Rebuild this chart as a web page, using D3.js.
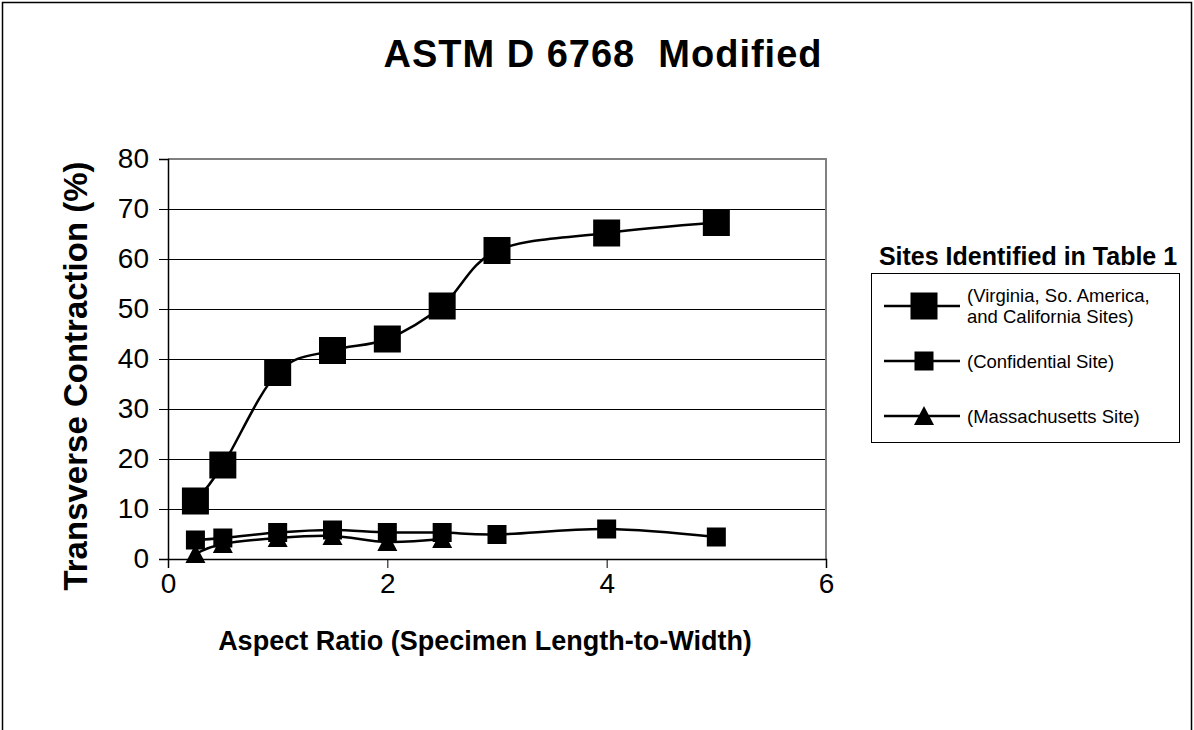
<!DOCTYPE html>
<html><head><meta charset="utf-8">
<script src="https://cdn.jsdelivr.net/npm/d3@7"></script>
<style>
html,body{margin:0;padding:0;background:#fff;}
svg{display:block;font-family:Arial,"Liberation Sans",sans-serif;}
</style></head>
<body><svg id="chart" width="1194" height="730"></svg>
<script>
// ---- data ----
const xVirginia = [0.25, 0.5, 1, 1.5, 2, 2.5, 3, 4, 5];
const yVirginia = [11.6, 18.8, 37.3, 41.7, 44.0, 50.6, 61.7, 65.2, 67.3];
const xConfidential = [0.25, 0.5, 1, 1.5, 2, 2.5, 3, 4, 5];
const yConfidential = [3.8, 4.2, 5.3, 5.8, 5.3, 5.3, 4.9, 6.0, 4.4];
const xMassachusetts = [0.25, 0.5, 1, 1.5, 2, 2.5];
const yMassachusetts = [1.0, 3.0, 4.2, 4.6, 3.4, 4.0];
const xTicks = [0, 2, 4, 6];
const yTicks = [0, 10, 20, 30, 40, 50, 60, 70, 80];
const titleText = "ASTM D 6768  Modified";
const xTitle = "Aspect Ratio (Specimen Length-to-Width)";
const yTitle = "Transverse Contraction (%)";
const legendTitle = "Sites Identified in Table 1";
const legendLabels = [["(Virginia, So. America,", "and California Sites)"], ["(Confidential Site)"], ["(Massachusetts Site)"]];

const svg = d3.select("#chart");
const L = 168, R = 826, T = 159, B = 559;
const x = d3.scaleLinear().domain([0, 6]).range([L, R]);
const y = d3.scaleLinear().domain([0, 80]).range([B, T]);

// outer border
svg.append("rect").attr("x", 2.5).attr("y", 2.5).attr("width", 1189).attr("height", 760)
  .attr("fill", "none").attr("stroke", "#000").attr("stroke-width", 1.5);

// title
svg.append("text").attr("x", 603).attr("y", 67).attr("text-anchor", "middle")
  .attr("font-size", 38).attr("font-weight", "bold").style("letter-spacing", "1px")
  .attr("xml:space", "preserve").text(titleText);

// gridlines
svg.append("g").selectAll("line").data(yTicks.filter(d => d > 0 && d < 80)).join("line")
  .attr("x1", L).attr("x2", R).attr("y1", d => Math.round(y(d)) + 0.5).attr("y2", d => Math.round(y(d)) + 0.5)
  .attr("stroke", "#000").attr("stroke-width", 1);

// plot frame top/right gray
svg.append("path").attr("d", `M${L},${T}H${R}V${B}`).attr("fill", "none")
  .attr("stroke", "#808080").attr("stroke-width", 2);

// axes
const yAxis = d3.axisLeft(y).tickValues(yTicks).tickSize(9).tickPadding(10);
const gy = svg.append("g").attr("transform", `translate(${L},0)`).call(yAxis);
gy.select(".domain").attr("stroke", "#000").attr("stroke-width", 1.5);
gy.selectAll(".tick line").attr("stroke", "#000");
gy.selectAll(".tick text").attr("font-size", 28).attr("font-family", "Arial,'Liberation Sans',sans-serif").attr("fill", "#000");

const xAxis = d3.axisBottom(x).tickValues(xTicks).tickSize(9).tickPadding(5).tickFormat(d3.format("d"));
const gx = svg.append("g").attr("transform", `translate(0,${B})`).call(xAxis);
gx.select(".domain").attr("stroke", "#000").attr("stroke-width", 1.5);
gx.selectAll(".tick line").attr("stroke", "#000");
gx.selectAll(".tick text").attr("font-size", 28).attr("font-family", "Arial,'Liberation Sans',sans-serif").attr("fill", "#000");

// axis titles
svg.append("text").attr("x", 485).attr("y", 650).attr("text-anchor", "middle")
  .attr("font-size", 27).attr("font-weight", "bold").text(xTitle);
svg.append("text").attr("transform", `translate(87,376) rotate(-90)`).attr("text-anchor", "middle")
  .attr("font-size", 33).attr("font-weight", "bold").text(yTitle);

// series
const line = d3.line().x(d => x(d[0])).y(d => y(d[1])).curve(d3.curveCatmullRom.alpha(0));
const series = [
  {xs: xVirginia, ys: yVirginia, marker: "bigsq"},
  {xs: xConfidential, ys: yConfidential, marker: "sq"},
  {xs: xMassachusetts, ys: yMassachusetts, marker: "tri"}
];
function drawMarker(g, type, cx, cy) {
  if (type === "bigsq") g.append("rect").attr("x", cx - 13.5).attr("y", cy - 13.5).attr("width", 27).attr("height", 27).attr("fill", "#000");
  else if (type === "sq") g.append("rect").attr("x", cx - 9.5).attr("y", cy - 9.5).attr("width", 19).attr("height", 19).attr("fill", "#000");
  else g.append("path").attr("d", `M${cx},${cy - 10}L${cx + 10},${cy + 9}L${cx - 10},${cy + 9}Z`).attr("fill", "#000");
}
series.slice().reverse().forEach(s => {
  const pts = s.xs.map((v, i) => [v, s.ys[i]]);
  svg.append("path").datum(pts).attr("d", line).attr("fill", "none").attr("stroke", "#000").attr("stroke-width", 2.5);
});
series.slice().reverse().forEach(s => {
  const g = svg.append("g");
  s.xs.forEach((v, i) => drawMarker(g, s.marker, x(v), y(s.ys[i])));
});

// legend
svg.append("text").attr("x", 1028).attr("y", 265).attr("text-anchor", "middle")
  .attr("font-size", 25).attr("font-weight", "bold").text(legendTitle);
svg.append("rect").attr("x", 871.5).attr("y", 273.5).attr("width", 308).attr("height", 169)
  .attr("fill", "#fff").attr("stroke", "#000").attr("stroke-width", 1);
const legY = [306, 361, 416];
const types = ["bigsq", "sq", "tri"];
legY.forEach((ly, i) => {
  const g = svg.append("g");
  g.append("line").attr("x1", 884).attr("x2", 960).attr("y1", ly).attr("y2", ly).attr("stroke", "#000").attr("stroke-width", 2.5);
  drawMarker(g, types[i], 924, ly);
  const lines = legendLabels[i];
  const t = g.append("text").attr("font-size", 18.5).attr("x", 967);
  if (lines.length === 2) {
    t.append("tspan").attr("x", 967).attr("y", ly - 4).text(lines[0]);
    t.append("tspan").attr("x", 967).attr("y", ly + 17).text(lines[1]);
  } else {
    t.attr("y", ly + 7).text(lines[0]);
  }
});
</script></body></html>
